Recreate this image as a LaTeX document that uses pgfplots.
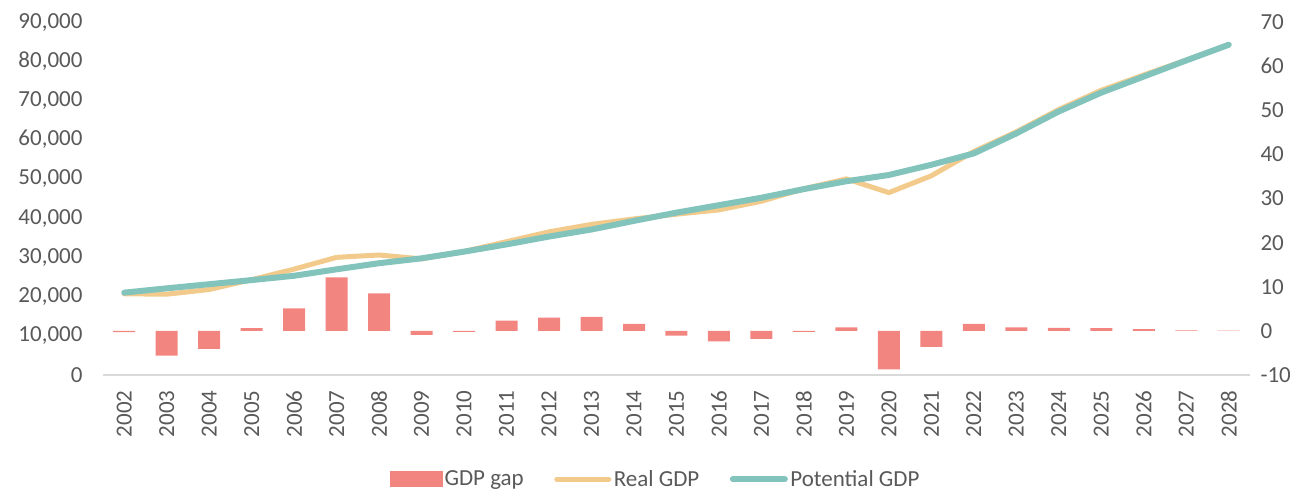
\documentclass[border=0pt]{standalone}
\usepackage{pgfplots}
\usepackage{pgfplotstable}
\pgfplotsset{compat=1.18}
\usepackage{fontspec}
\setmainfont{Carlito}
\definecolor{barcol}{RGB}{242,133,128}
\definecolor{realcol}{RGB}{242,203,140}
\definecolor{potcol}{RGB}{130,196,188}
\definecolor{txtgray}{RGB}{89,89,89}
\definecolor{axgray}{RGB}{217,217,217}
\newcommand\tfont{\fontsize{23}{27}\selectfont}
\pgfplotstableread{
i year gap real pot
0 2002 -0.3 20700 21000
1 2003 -5.6 20600 22100
2 2004 -4.1 21800 23150
3 2005 0.6 24300 24200
4 2006 5.1 27000 25300
5 2007 12.1 30000 26950
6 2008 8.5 30600 28500
7 2009 -0.9 29600 29750
8 2010 -0.2 31500 31450
9 2011 2.3 34000 33300
10 2012 3.0 36500 35300
11 2013 3.2 38400 37100
12 2014 1.6 39800 39300
13 2015 -1.1 41000 41400
14 2016 -2.4 42100 43300
15 2017 -1.8 44300 45200
16 2018 -0.2 47500 47400
17 2019 0.8 50000 49400
18 2020 -8.7 46500 51000
19 2021 -3.6 50800 53600
20 2022 1.6 57000 56500
21 2023 0.8 62000 61600
22 2024 0.7 67700 67200
23 2025 0.6 72600 72000
24 2026 0.4 76500 76100
25 2027 0.1 80300 80200
26 2028 0.05 84200 84200
}\data
\begin{document}
\begin{tikzpicture}[font=\tfont]
% right axis: GDP gap bars
\begin{axis}[
  scale only axis, width=1147pt, height=353pt,
  xmin=-0.5, xmax=26.5, ymin=-10, ymax=70,
  axis x line=none,
  axis y line*=right,
  y axis line style={draw=none},
  major tick length=0pt,
  ytick={-10,0,10,20,30,40,50,60,70},
  yticklabel style={font=\tfont, text=txtgray, xshift=7pt},
  /pgf/number format/assume math mode=true,
]
\addplot[ybar, bar width=22pt, fill=barcol, draw=none] table[x=i, y=gap] {\data};
\end{axis}
% left axis: GDP lines
\begin{axis}[
  scale only axis, width=1147pt, height=353pt,
  xmin=-0.5, xmax=26.5, ymin=0, ymax=90000,
  axis x line*=bottom,
  axis y line*=left,
  y axis line style={draw=none},
  x axis line style={draw=axgray, line width=2pt},
  major tick length=0pt,
  ytick={0,10000,20000,30000,40000,50000,60000,70000,80000,90000},
  scaled y ticks=false,
  /pgf/number format/.cd, fixed, precision=0, 1000 sep={,}, assume math mode=true,
  /pgfplots/.cd,
  yticklabel style={font=\tfont, text=txtgray, xshift=-17pt},
  xtick={0,...,26},
  xticklabels={2002,2003,2004,2005,2006,2007,2008,2009,2010,2011,2012,2013,2014,2015,2016,2017,2018,2019,2020,2021,2022,2023,2024,2025,2026,2027,2028},
  xticklabel style={font=\tfont, text=txtgray, yshift=-12pt, rotate=90, anchor=east},
  legend columns=3,
  legend cell align=left,
  legend style={at={(0.482,-0.295)}, anchor=center, draw=none, fill=none,
    font=\tfont, text=txtgray,
    /tikz/every even column/.append style={column sep=28pt},
    nodes={inner sep=2.5pt}},
]
\addlegendimage{legend image code/.code={\fill[barcol] (0pt,-7.5pt) rectangle (52pt,7.5pt);}}
\addlegendentry{GDP gap}
\addplot[realcol, line width=5pt, line join=round, line cap=round,
  legend image code/.code={\draw[realcol, line width=5pt, line cap=round] (2pt,0pt) -- (54pt,0pt);}]
  table[x=i, y=real] {\data};
\addlegendentry{Real GDP}
\addplot[potcol, line width=6pt, line join=round, line cap=round,
  legend image code/.code={\draw[potcol, line width=6pt, line cap=round] (2pt,0pt) -- (54pt,0pt);}]
  table[x=i, y=pot] {\data};
\addlegendentry{Potential GDP}
\end{axis}
\path (-103pt,-115pt) rectangle (1209pt,375pt);
\end{tikzpicture}
\end{document}
